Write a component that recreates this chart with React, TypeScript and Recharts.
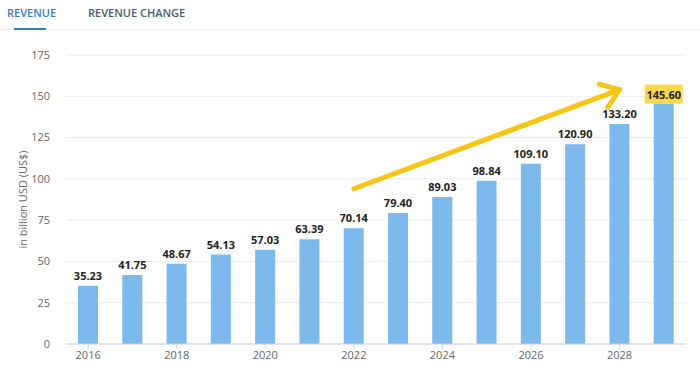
import React from 'react';
import { BarChart, Bar, XAxis, YAxis, CartesianGrid, LabelList, ReferenceLine } from 'recharts';

const years = ['2016', '2017', '2018', '2019', '2020', '2021', '2022', '2023', '2024', '2025', '2026', '2027', '2028', '2029'];
const revenue = [35.23, 41.75, 48.67, 54.13, 57.03, 63.39, 70.14, 79.4, 89.03, 98.84, 109.1, 120.9, 133.2, 145.6];
const yTicks = [0, 25, 50, 75, 100, 125, 150, 175];
const arrowFrom = { year: '2022', value: 94 };
const arrowTo = { year: '2028', value: 154 };

const data = years.map((year, i) => ({ year, revenue: revenue[i] }));
const lastYear = years[years.length - 1];

const FONT = '"Open Sans", "Noto Sans", sans-serif';
const YELLOW = '#f7c614';

const ValueLabel = (props: any) => {
  const { x, y, width, value, index } = props;
  const cx = x + width / 2;
  const text = Number(value).toFixed(2);
  if (data[index].year === lastYear) {
    return (
      <g>
        <rect x={cx - 19} y={y - 19} width={38} height={19} fill="#fbd848" />
        <text x={cx} y={y - 5} textAnchor="middle" fontSize={11} fontWeight={700} fill="#222" fontFamily={FONT}>
          {text}
        </text>
      </g>
    );
  }
  return (
    <text x={cx} y={y - 6} textAnchor="middle" fontSize={11} fontWeight={700} fill="#222" fontFamily={FONT}>
      {text}
    </text>
  );
};

const ArrowShape = (props: any) => {
  const { x1, y1, x2, y2 } = props;
  const ang = Math.atan2(y2 - y1, x2 - x1);
  const len = 21;
  const spread = 0.62;
  const ax = x2 - len * Math.cos(ang - spread);
  const ay = y2 - len * Math.sin(ang - spread);
  const bx = x2 - len * Math.cos(ang + spread);
  const by = y2 - len * Math.sin(ang + spread);
  return (
    <g>
      <line x1={x1} y1={y1} x2={x2} y2={y2} stroke={YELLOW} strokeWidth={5} strokeLinecap="round" />
      <polyline
        points={`${ax},${ay} ${x2},${y2} ${bx},${by}`}
        fill="none"
        stroke={YELLOW}
        strokeWidth={5}
        strokeLinecap="round"
        strokeLinejoin="round"
      />
    </g>
  );
};

export default function App() {
  return (
    <div style={{ position: 'absolute', left: 0, top: 0, width: 700, height: 377, background: '#fff', fontFamily: FONT }}>
      <div style={{ position: 'absolute', left: 0, top: 29, width: 700, height: 1, background: '#eef0f2' }} />
      <div style={{ position: 'absolute', left: 7, top: 5, fontSize: 11, fontWeight: 600, color: '#2f7fc8' }}>REVENUE</div>
      <div style={{ position: 'absolute', left: 14, top: 28, width: 32, height: 2, background: '#2f7fc8' }} />
      <div style={{ position: 'absolute', left: 88, top: 5, fontSize: 11, fontWeight: 600, color: '#4b5b6b' }}>REVENUE CHANGE</div>
      <div style={{ position: 'absolute', left: 0, top: 0 }}>
        <BarChart width={700} height={377} data={data} margin={{ top: 55, right: 14, bottom: 3, left: 2 }}>
          <CartesianGrid vertical={false} stroke="#e9ecef" />
          <XAxis
            dataKey="year"
            interval={1}
            tick={{ fontSize: 11, fill: '#666', fontFamily: FONT }}
            tickLine={{ stroke: '#ccd6eb' }}
            tickSize={5}
            axisLine={{ stroke: '#ccd6eb' }}
            height={30}
          />
          <YAxis
            width={64}
            domain={[0, 175]}
            ticks={yTicks}
            tick={{ fontSize: 11, fill: '#666', fontFamily: FONT }}
            axisLine={false}
            tickLine={false}
            tickMargin={10}
            label={{
              value: 'in billion USD (US$)',
              angle: -90,
              position: 'insideLeft',
              offset: 21,
              style: { textAnchor: 'middle', fontSize: 11, fill: '#666', fontFamily: FONT },
            }}
          />
          <Bar dataKey="revenue" fill="#7cb9ec" barSize={20} isAnimationActive={false}>
            <LabelList dataKey="revenue" content={ValueLabel} />
          </Bar>
          <ReferenceLine
            segment={[
              { x: arrowFrom.year, y: arrowFrom.value },
              { x: arrowTo.year, y: arrowTo.value },
            ]}
            shape={ArrowShape}
            ifOverflow="visible"
          />
        </BarChart>
      </div>
    </div>
  );
}
